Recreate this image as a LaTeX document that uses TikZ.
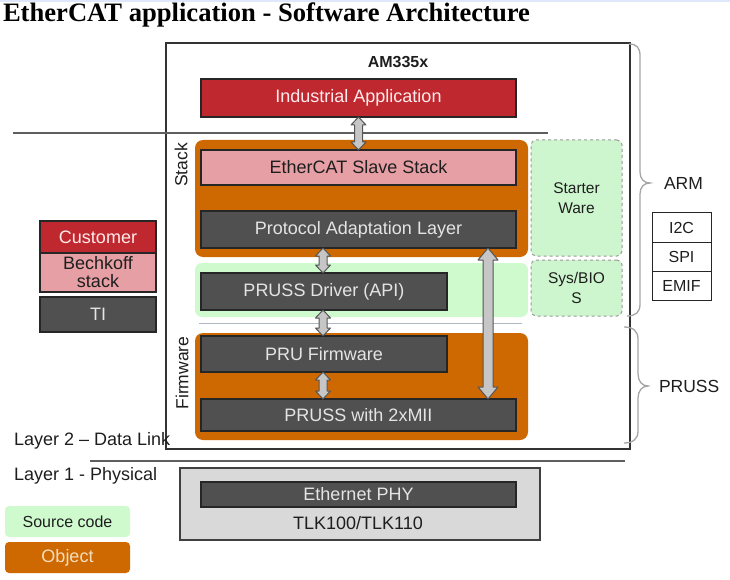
\documentclass[tikz,border=0pt]{standalone}
\usepackage{fontspec}
\setmainfont{Liberation Sans}
\newfontfamily\titlefont{Liberation Serif}
\usetikzlibrary{calc}
\definecolor{redc}{RGB}{192,40,48}
\definecolor{pinkc}{RGB}{230,160,165}
\definecolor{darkc}{RGB}{80,80,80}
\definecolor{orangec}{RGB}{206,104,0}
\definecolor{greenc}{RGB}{206,250,206}
\definecolor{greenb}{RGB}{206,246,206}
\definecolor{arrowf}{RGB}{198,198,198}
\definecolor{arrowd}{RGB}{85,85,85}
\definecolor{physc}{RGB}{217,217,217}
\definecolor{bracec}{RGB}{165,165,165}
\definecolor{linec}{RGB}{95,95,95}
\definecolor{thinc}{RGB}{175,185,195}
\definecolor{lighttxt}{RGB}{228,228,228}
\definecolor{creamtxt}{RGB}{245,222,190}
\definecolor{topblue}{RGB}{222,232,250}
\definecolor{txtc}{RGB}{30,30,30}
\newcommand\szf[1]{\fontsize{#1}{#1}\selectfont}
% double block arrow between two points (vertical)
\newcommand\dblarr[5]{%
  \filldraw[arrowsty] let \p1=(#1), \p2=(#2) in
   (\x1,\y1) -- (\x1+#3,\y1-#5) -- (\x1+#4,\y1-#5) -- (\x1+#4,\y2+#5) -- (\x1+#3,\y2+#5)
   -- (\x1,\y2) -- (\x1-#3,\y2+#5) -- (\x1-#4,\y2+#5) -- (\x1-#4,\y1-#5) -- (\x1-#3,\y1-#5) -- cycle;}
\begin{document}
\begin{tikzpicture}[x=1pt,y=-1pt,
  every node/.style={inner sep=0pt, outer sep=0pt},
  box/.style={draw=black!85, line width=1.1pt, font=\szf{18}},
  darkbox/.style={box, fill=darkc, text=lighttxt},
  redbox/.style={box, fill=redc, text=white!92!red},
  pinkbox/.style={box, fill=pinkc, text=txtc},
  orangebg/.style={fill=orangec, rounded corners=8pt},
  greenbg/.style={fill=greenc, rounded corners=7pt},
  dashbox/.style={fill=greenb, draw=black!40, dashed, line width=1pt, rounded corners=5pt, align=center, font=\fontsize{15.5}{20}\selectfont, text=txtc},
  smallbox/.style={draw=black!85, line width=1pt, fill=white, font=\szf{16}, text=txtc, minimum width=59pt, minimum height=29.3pt},
  lbl/.style={font=\szf{17.5}, text=txtc},
  arrowsty/.style={fill=arrowf, draw=arrowd, line width=1pt, line join=round},
  bracesty/.style={draw=bracec, line width=1.3pt},
  rule/.style={draw=linec, line width=2pt}
]
\useasboundingbox (0,0) rectangle (730,580);
\fill[topblue] (0,0) rectangle (730,2);

% title
\node[anchor=base west, font=\titlefont\bfseries\fontsize{26.6}{30}\selectfont] (title) at (3,22) {EtherCAT application - Software Architecture};

% outer AM335x box
\node[draw=black!80, line width=1.1pt, minimum width=464pt, minimum height=406pt] (am) at (398,246) {};
\node[font=\bfseries\szf{16}, text=txtc] (amlabel) at (398,62) {AM335x};

% backgrounds
\node[orangebg, minimum width=333pt, minimum height=117pt] (stackbg) at (361.5,198.5) {};
\node[greenbg, minimum width=333pt, minimum height=54pt] (srcbg) at (361.5,290) {};
\node[orangebg, minimum width=333pt, minimum height=107pt] (fwbg) at (361.5,386.5) {};

% rules
\coordinate (r1a) at (13,133); \coordinate (r1b) at (548,133);
\draw[rule] (r1a) -- (r1b);
\coordinate (r2a) at (199,323); \coordinate (r2b) at (522,323);
\draw[draw=thinc, line width=1pt] (r2a) -- (r2b);

% main boxes
\node[redbox, minimum width=315pt, minimum height=38pt] (indapp) at (358.5,98) {Industrial Application};
\node[pinkbox, minimum width=315pt, minimum height=35pt] (ecat) at (358.5,167.5) {EtherCAT Slave Stack};
\node[darkbox, minimum width=315pt, minimum height=37pt] (pal) at (358.5,229.5) {Protocol Adaptation Layer};
\node[darkbox, minimum width=246pt, minimum height=37pt] (drv) at (324,291.5) {PRUSS Driver (API)};
\node[darkbox, minimum width=246pt, minimum height=36pt] (pru) at (324,354) {PRU Firmware};
\node[darkbox, minimum width=315pt, minimum height=32pt] (pruss) at (358.5,415) {PRUSS with 2xMII};

% side dashed boxes
\node[dashbox, minimum width=91pt, minimum height=116pt] (starter) at (576.5,198) {Starter\\Ware};
\node[dashbox, minimum width=91pt, minimum height=56pt] (sysbios) at (576.5,288) {Sys/BIO\\S};

% rotated labels
\node[lbl, rotate=90] (stacklbl) at (181,165) {Stack};
\node[lbl, rotate=90] (fwlbl) at (182,373) {Firmware};

% arrows
\coordinate (xa) at (323,0);
\coordinate (xb) at (488,0);
\dblarr{indapp.south}{ecat.north}{7.5pt}{4pt}{8pt}
\dblarr{pal.south -| xa}{drv.north -| xa}{7.5pt}{4pt}{8pt}
\dblarr{drv.south -| xa}{pru.north -| xa}{7.5pt}{4pt}{8pt}
\dblarr{pru.south -| xa}{pruss.north -| xa}{7.5pt}{4pt}{8pt}
\dblarr{pal.south -| xb}{pruss.north -| xb}{10pt}{5pt}{12pt}

% braces
\draw[bracesty] (629,44) .. controls (637,44) and (640,48) .. (640,56) -- (640,172)
  .. controls (640,179) and (644,183) .. (650,183)
  .. controls (644,183) and (640,187) .. (640,194) -- (640,304)
  .. controls (640,312) and (636,316) .. (627,316);
\node[anchor=west, font=\szf{17.5}, text=txtc] (armlbl) at (664,183) {ARM};
\draw[bracesty] (624,327) .. controls (633,327) and (638,331) .. (638,339) -- (638,374)
  .. controls (638,381) and (642,386) .. (648,386)
  .. controls (642,386) and (638,391) .. (638,398) -- (638,431)
  .. controls (638,439) and (633,443) .. (624,443);
\node[anchor=west, font=\szf{17.5}, text=txtc] (prulbl) at (659,386) {PRUSS};

% peripheral boxes
\node[smallbox] (i2c) at (681.5,227.5) {I2C};
\node[smallbox, anchor=north] (spi) at (i2c.south) {SPI};
\node[smallbox, anchor=north] (emif) at (spi.south) {EMIF};

% left legend
\node[redbox, minimum width=116pt, minimum height=32pt] (cust) at (98,237) {Customer};
\node[pinkbox, minimum width=116pt, minimum height=39pt, align=center, font=\fontsize{18}{18}\selectfont] (bech) at (98,272.5) {Bechkoff\\stack};
\node[darkbox, minimum width=116pt, minimum height=35pt] (ti) at (98,314.5) {TI};

% layers
\node[lbl, anchor=west, font=\szf{18}] (l2) at (14,441) {Layer 2 – Data Link};
\coordinate (r3a) at (90,461); \coordinate (r3b) at (625,461);
\draw[rule, line width=2.5pt] (r3a) -- (r3b);
\node[lbl, anchor=west, font=\szf{18}] (l1) at (14,476) {Layer 1 - Physical};

% physical
\node[draw=black!75, line width=1.1pt, fill=physc, minimum width=360pt, minimum height=72pt] (tlk) at (360,504) {};
\node[darkbox, minimum width=315pt, minimum height=25pt] (phy) at (358.5,494.5) {Ethernet PHY};
\node[lbl, font=\szf{18}] (tlklbl) at (358,523) {TLK100/TLK110};

% bottom legend
\node[fill=greenc, rounded corners=4pt, minimum width=125pt, minimum height=31pt, font=\szf{16}, text=txtc] (srcleg) at (67.5,521.5) {Source code};
\node[fill=orangec, rounded corners=4pt, minimum width=125pt, minimum height=31pt, font=\szf{18}, text=creamtxt] (objleg) at (67.5,557.5) {Object};
\end{tikzpicture}
\end{document}
